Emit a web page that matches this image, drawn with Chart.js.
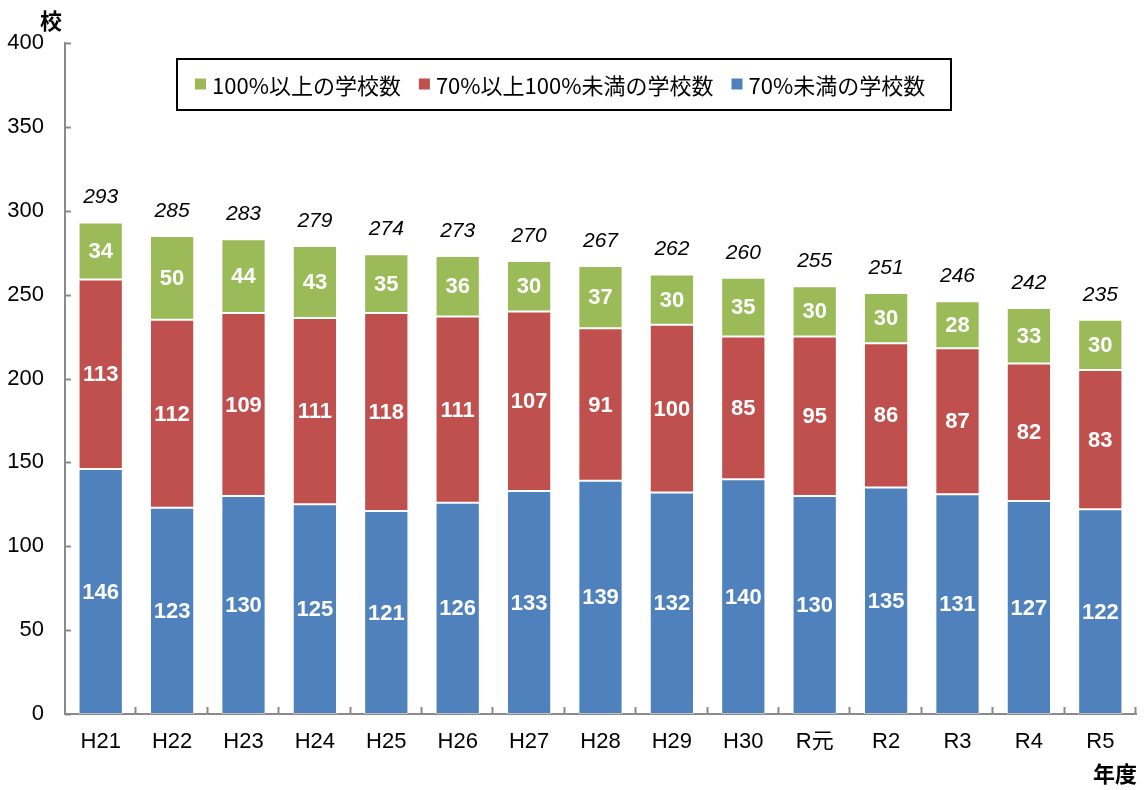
<!DOCTYPE html>
<html>
<head>
<meta charset="UTF-8">
<title>学校数の推移</title>
<script src="https://cdn.jsdelivr.net/npm/chart.js"></script>
<style>
  html, body { margin: 0; padding: 0; background: #fff; }
  #wrap { position: relative; width: 1147px; height: 790px; }
</style>
</head>
<body>
<div id="wrap"><canvas id="schoolChart"></canvas></div>
<script>
// 年度ごとの学校数
const years = ['H21', 'H22', 'H23', 'H24', 'H25', 'H26', 'H27', 'H28', 'H29', 'H30', 'R元', 'R2', 'R3', 'R4', 'R5'];
const under70 = [146, 123, 130, 125, 121, 126, 133, 139, 132, 140, 130, 135, 131, 127, 122];
const from70to100 = [113, 112, 109, 111, 118, 111, 107, 91, 100, 85, 95, 86, 87, 82, 83];
const over100 = [34, 50, 44, 43, 35, 36, 30, 37, 30, 35, 30, 30, 28, 33, 30];
const totals = [293, 285, 283, 279, 274, 273, 270, 267, 262, 260, 255, 251, 246, 242, 235];
const yTicks = [0, 50, 100, 150, 200, 250, 300, 350, 400];

const JP = "'Liberation Sans', 'Noto Sans CJK JP', sans-serif";
const CJK = "'Noto Sans CJK JP', sans-serif";
const AXIS = '#8a8a8a';

Chart.defaults.font.family = JP;
Chart.defaults.color = '#000';

// 棒の中の数値と上の合計、内側の目盛、凡例、軸タイトル
const decorations = {
  id: 'decorations',
  afterDatasetsDraw(chart) {
    const ctx = chart.ctx;
    const x = chart.scales.x, y = chart.scales.y;
    const area = chart.chartArea;
    ctx.save();

    // 内向きの目盛
    ctx.strokeStyle = AXIS;
    ctx.lineWidth = 2;
    yTicks.forEach(v => {
      const py = Math.round(y.getPixelForValue(v)) + 0.5;
      ctx.beginPath();
      ctx.moveTo(area.left, py);
      ctx.lineTo(area.left + 6, py);
      ctx.stroke();
    });
    for (let i = 1; i <= years.length; i++) {
      const px = i < years.length
        ? (x.getPixelForValue(i - 1) + x.getPixelForValue(i)) / 2
        : area.right;
      ctx.beginPath();
      ctx.moveTo(Math.round(px) - 0.5, area.bottom);
      ctx.lineTo(Math.round(px) - 0.5, area.bottom - 7);
      ctx.stroke();
    }

    // 区分ごとの数値
    ctx.textAlign = 'center';
    ctx.textBaseline = 'middle';
    ctx.fillStyle = '#fff';
    ctx.font = 'bold 22px ' + JP;
    chart.data.datasets.forEach((ds, di) => {
      chart.getDatasetMeta(di).data.forEach((bar, i) => {
        ctx.fillText(String(ds.data[i]), bar.x, (bar.y + bar.base) / 2 + 1);
      });
    });

    // 合計
    ctx.fillStyle = '#000';
    ctx.font = 'italic 21px ' + JP;
    const top = chart.getDatasetMeta(chart.data.datasets.length - 1).data;
    top.forEach((bar, i) => {
      ctx.fillText(String(totals[i]), bar.x, y.getPixelForValue(totals[i]) - 25);
    });

    // 凡例
    const boxL = 177, boxT = 59, boxR = 951, boxB = 110;
    ctx.fillStyle = '#fff';
    ctx.fillRect(boxL, boxT, boxR - boxL, boxB - boxT);
    ctx.strokeStyle = '#000';
    ctx.lineWidth = 2;
    ctx.strokeRect(boxL, boxT, boxR - boxL, boxB - boxT);
    ctx.font = '22px ' + CJK;
    ctx.textAlign = 'left';
    let lx = 195;
    const ly = (boxT + boxB) / 2;
    [...chart.data.datasets].reverse().forEach(ds => {
      ctx.fillStyle = ds.backgroundColor;
      ctx.fillRect(lx, ly - 6, 11, 11);
      lx += 17;
      ctx.fillStyle = '#000';
      ctx.fillText(ds.label, lx, ly + 1);
      lx += ctx.measureText(ds.label).width + 18;
    });

    // 軸タイトル
    ctx.font = 'bold 22px ' + CJK;
    ctx.textAlign = 'center';
    ctx.fillText('校', 51, 21);
    ctx.fillText('年度', 1115, 774);
    ctx.restore();
  }
};

new Chart(document.getElementById('schoolChart'), {
  type: 'bar',
  data: {
    labels: years,
    datasets: [
      { label: '70%未満の学校数', data: under70, backgroundColor: '#4F81BD' },
      { label: '70%以上100%未満の学校数', data: from70to100, backgroundColor: '#C0504D' },
      { label: '100%以上の学校数', data: over100, backgroundColor: '#9BBB59' }
    ].map(ds => Object.assign(ds, {
      borderColor: 'rgba(255,255,255,0.45)',
      borderWidth: 1,
      borderSkipped: false,
      categoryPercentage: 1,
      barPercentage: 0.62
    }))
  },
  options: {
    responsive: true,
    maintainAspectRatio: false,
    animation: false,
    layout: { padding: { top: 43, right: 11, left: 0, bottom: 0 } },
    plugins: { legend: { display: false }, tooltip: { enabled: false } },
    scales: {
      x: {
        stacked: true,
        grid: { display: false, drawTicks: false },
        border: { color: AXIS, width: 2 },
        ticks: { padding: 15, font: { size: 22 }, color: '#000', maxRotation: 0 },
        afterFit(s) { s.height = 76; }
      },
      y: {
        stacked: true,
        min: 0,
        max: 400,
        afterBuildTicks(s) { s.ticks = yTicks.map(v => ({ value: v })); },
        grid: { display: false, drawTicks: false },
        border: { color: AXIS, width: 2 },
        ticks: { padding: 21, font: { size: 22 }, color: '#000' },
        afterFit(s) { s.width = 65; }
      }
    }
  },
  plugins: [decorations]
});
</script>
</body>
</html>
